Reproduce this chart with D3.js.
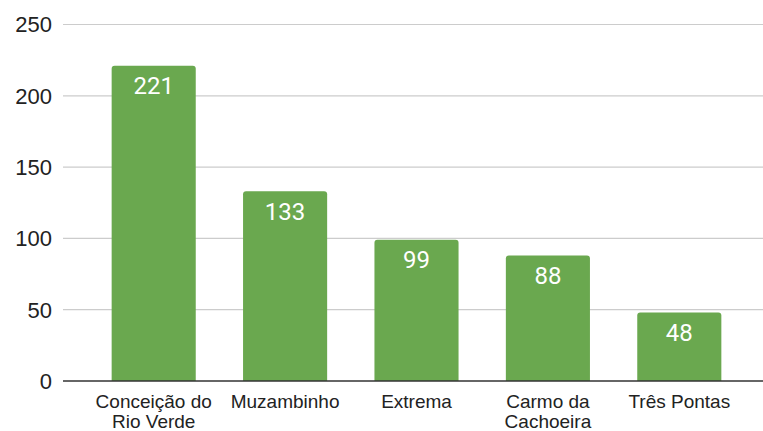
<!DOCTYPE html>
<head>
    <meta charset="utf-8">
    <style>
      body {
          margin: 0;
          background: #fff;
      }

      .tick-label {
          font-family: Arial, 'Liberation Sans', sans-serif;
          font-size: 22px;
          fill: #222;
      }

      .cat-label {
          font-family: Arial, 'Liberation Sans', sans-serif;
          font-size: 19px;
          fill: #222;
      }

      .value-label {
          font-family: Roboto, Arial, sans-serif;
          font-size: 24px;
          fill: #fff;
      }

      .grid {
          stroke: #cccccc;
          stroke-width: 1.2px;
      }

      .baseline {
          stroke: #333;
          stroke-width: 1.5px;
      }

      .bar {
          fill: #6aa84f;
      }
  </style>
</head>
<body>
<svg id="chart" width="763" height="431"></svg>
<script src="https://cdn.jsdelivr.net/npm/d3@7"></script>
<script>
  // data
  var cities = ["Conceição do\nRio Verde", "Muzambinho", "Extrema", "Carmo da\nCachoeira", "Três Pontas"];
  var counts = [221, 133, 99, 88, 48];
  var yTicks = [0, 50, 100, 150, 200, 250];

  var svg = d3.select("#chart");

  var x = d3.scaleBand()
      .domain(cities)
      .range([88, 745])
      .paddingInner(0.36)
      .paddingOuter(0.18);

  var y = d3.scaleLinear()
      .domain([0, 250])
      .range([381, 24.5]);

  // gridlines
  svg.append("g")
    .selectAll("line")
    .data(yTicks.filter(function(d) { return d > 0; }))
    .join("line")
      .attr("class", "grid")
      .attr("x1", 63)
      .attr("x2", 763)
      .attr("y1", function(d) { return y(d); })
      .attr("y2", function(d) { return y(d); });

  // y tick labels
  svg.append("g")
    .selectAll("text")
    .data(yTicks)
    .join("text")
      .attr("class", "tick-label")
      .attr("x", 52)
      .attr("y", function(d) { return y(d); })
      .attr("dy", "0.36em")
      .attr("text-anchor", "end")
      .text(function(d) { return d; });

  // bars with slightly rounded tops
  var r = 3;
  svg.append("g")
    .selectAll("path")
    .data(cities)
    .join("path")
      .attr("class", "bar")
      .attr("d", function(d, i) {
        var x0 = x(d), x1 = x(d) + x.bandwidth();
        var top = y(counts[i]), bottom = y(0);
        return "M" + x0 + "," + bottom +
          "V" + (top + r) +
          "Q" + x0 + "," + top + " " + (x0 + r) + "," + top +
          "H" + (x1 - r) +
          "Q" + x1 + "," + top + " " + x1 + "," + (top + r) +
          "V" + bottom + "Z";
      });

  // value labels
  svg.append("g")
    .selectAll("text")
    .data(cities)
    .join("text")
      .attr("class", "value-label")
      .attr("x", function(d) { return x(d) + x.bandwidth() / 2; })
      .attr("y", function(d, i) { return y(counts[i]) + 28.5; })
      .attr("text-anchor", "middle")
      .text(function(d, i) { return counts[i]; });

  // baseline
  svg.append("line")
      .attr("class", "baseline")
      .attr("x1", 63)
      .attr("x2", 763)
      .attr("y1", y(0))
      .attr("y2", y(0));

  // category labels, two lines where needed
  var cat = svg.append("g")
    .selectAll("text")
    .data(cities)
    .join("text")
      .attr("class", "cat-label")
      .attr("text-anchor", "middle")
      .attr("x", function(d) { return x(d) + x.bandwidth() / 2; })
      .attr("y", y(0) + 26.5);

  cat.selectAll("tspan")
    .data(function(d) { return d.split("\n"); })
    .join("tspan")
      .attr("x", function() { return this.parentNode.getAttribute("x"); })
      .attr("dy", function(d, i) { return i ? 20 : 0; })
      .text(function(d) { return d; });
</script>
</body>
